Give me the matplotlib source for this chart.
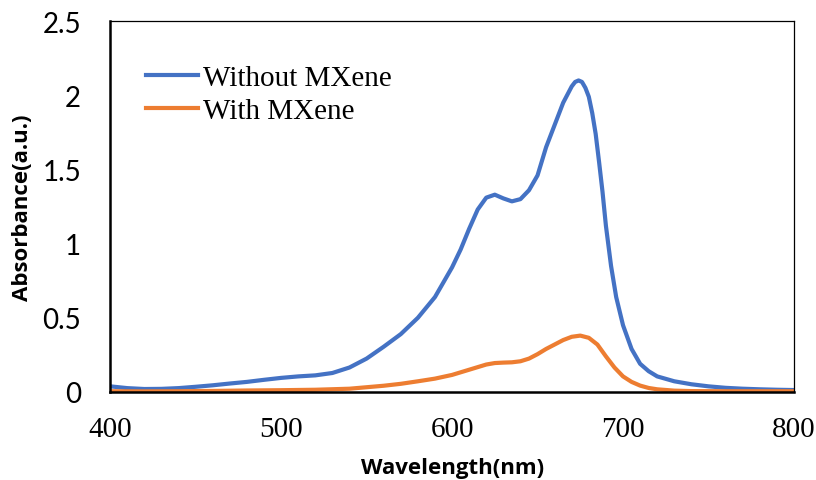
import matplotlib
matplotlib.use("Agg")
import matplotlib.pyplot as plt

# absorbance spectra read at selected wavelengths (nm)
wl_without = [400, 410, 420, 430, 440, 450, 460, 470, 480, 490, 500, 510, 520,
              530, 540, 550, 560, 570, 580, 590, 600, 605, 610, 615, 620, 625,
              630, 635, 640, 645, 650, 655, 660, 665, 670, 672, 674, 676, 678,
              680, 682, 684, 686, 688, 690, 693, 696, 700, 705, 710, 715, 720,
              730, 740, 750, 760, 770, 780, 790, 800]
abs_without = [0.038, 0.026, 0.020, 0.021, 0.026, 0.035, 0.045, 0.057, 0.068,
               0.082, 0.095, 0.105, 0.112, 0.128, 0.165, 0.225, 0.305, 0.39,
               0.50, 0.64, 0.84, 0.96, 1.10, 1.23, 1.31, 1.33, 1.305, 1.285,
               1.30, 1.36, 1.46, 1.65, 1.80, 1.95, 2.06, 2.09, 2.10, 2.09, 2.05,
               1.99, 1.88, 1.74, 1.55, 1.35, 1.12, 0.85, 0.64, 0.45, 0.29, 0.19,
               0.14, 0.105, 0.072, 0.052, 0.038, 0.028, 0.022, 0.018, 0.015,
               0.013]

wl_with = [400, 420, 440, 460, 480, 500, 520, 540, 550, 560, 570, 580, 590, 600,
           610, 620, 625, 630, 635, 640, 645, 650, 655, 660, 665, 670, 675, 680,
           685, 690, 695, 700, 705, 710, 715, 720, 730, 740, 760, 800]
abs_with = [0.005, 0.004, 0.005, 0.007, 0.010, 0.012, 0.015, 0.022, 0.032,
            0.042, 0.055, 0.072, 0.090, 0.115, 0.150, 0.185, 0.195, 0.198,
            0.200, 0.207, 0.225, 0.255, 0.290, 0.320, 0.350, 0.372, 0.380,
            0.365, 0.320, 0.240, 0.165, 0.105, 0.068, 0.043, 0.027, 0.018,
            0.009, 0.006, 0.005, 0.005]

x_ticks = [400, 500, 600, 700, 800]
y_ticks = [0, 0.5, 1, 1.5, 2, 2.5]
y_tick_labels = ["0", "0.5", "1", "1.5", "2", "2.5"]

fig = plt.figure(figsize=(8.16, 4.81), dpi=100)
ax = fig.add_axes([0.135, 0.183, 0.838, 0.771])

ax.plot(wl_without, abs_without, color="#4472C4", lw=3, label="Without MXene",
        solid_joinstyle="round")
ax.plot(wl_with, abs_with, color="#ED7D31", lw=3, label="With MXene",
        solid_joinstyle="round")

ax.set_xlim(400, 800)
ax.set_ylim(0, 2.5)
ax.set_xticks(x_ticks)
ax.set_yticks(y_ticks)
ax.set_yticklabels(y_tick_labels)
ax.tick_params(length=0)
ax.tick_params(axis="x", pad=17)
ax.tick_params(axis="y", pad=21)
for lab in ax.get_xticklabels():
    lab.set_fontfamily("Liberation Serif")
    lab.set_fontsize(21)
for lab in ax.get_yticklabels():
    lab.set_fontfamily("Lato")
    lab.set_fontsize(20)

for side in ["left", "bottom"]:
    ax.spines[side].set_linewidth(1.8)
for side in ["top", "right"]:
    ax.spines[side].set_linewidth(0.9)

ax.set_xlabel("Wavelength(nm)", family="Open Sans", fontweight="bold",
              fontsize=16, labelpad=11)
ax.set_ylabel("Absorbance(a.u.)", family="Open Sans", fontweight="bold",
              fontsize=16, labelpad=7)

ax.legend(loc="upper left", bbox_to_anchor=(0.035, 0.915), frameon=False,
          prop={"family": "Liberation Serif", "size": 21},
          handlelength=1.8, handletextpad=0.15, labelspacing=0.25,
          borderaxespad=0)

fig.savefig("out.png", dpi=100)
